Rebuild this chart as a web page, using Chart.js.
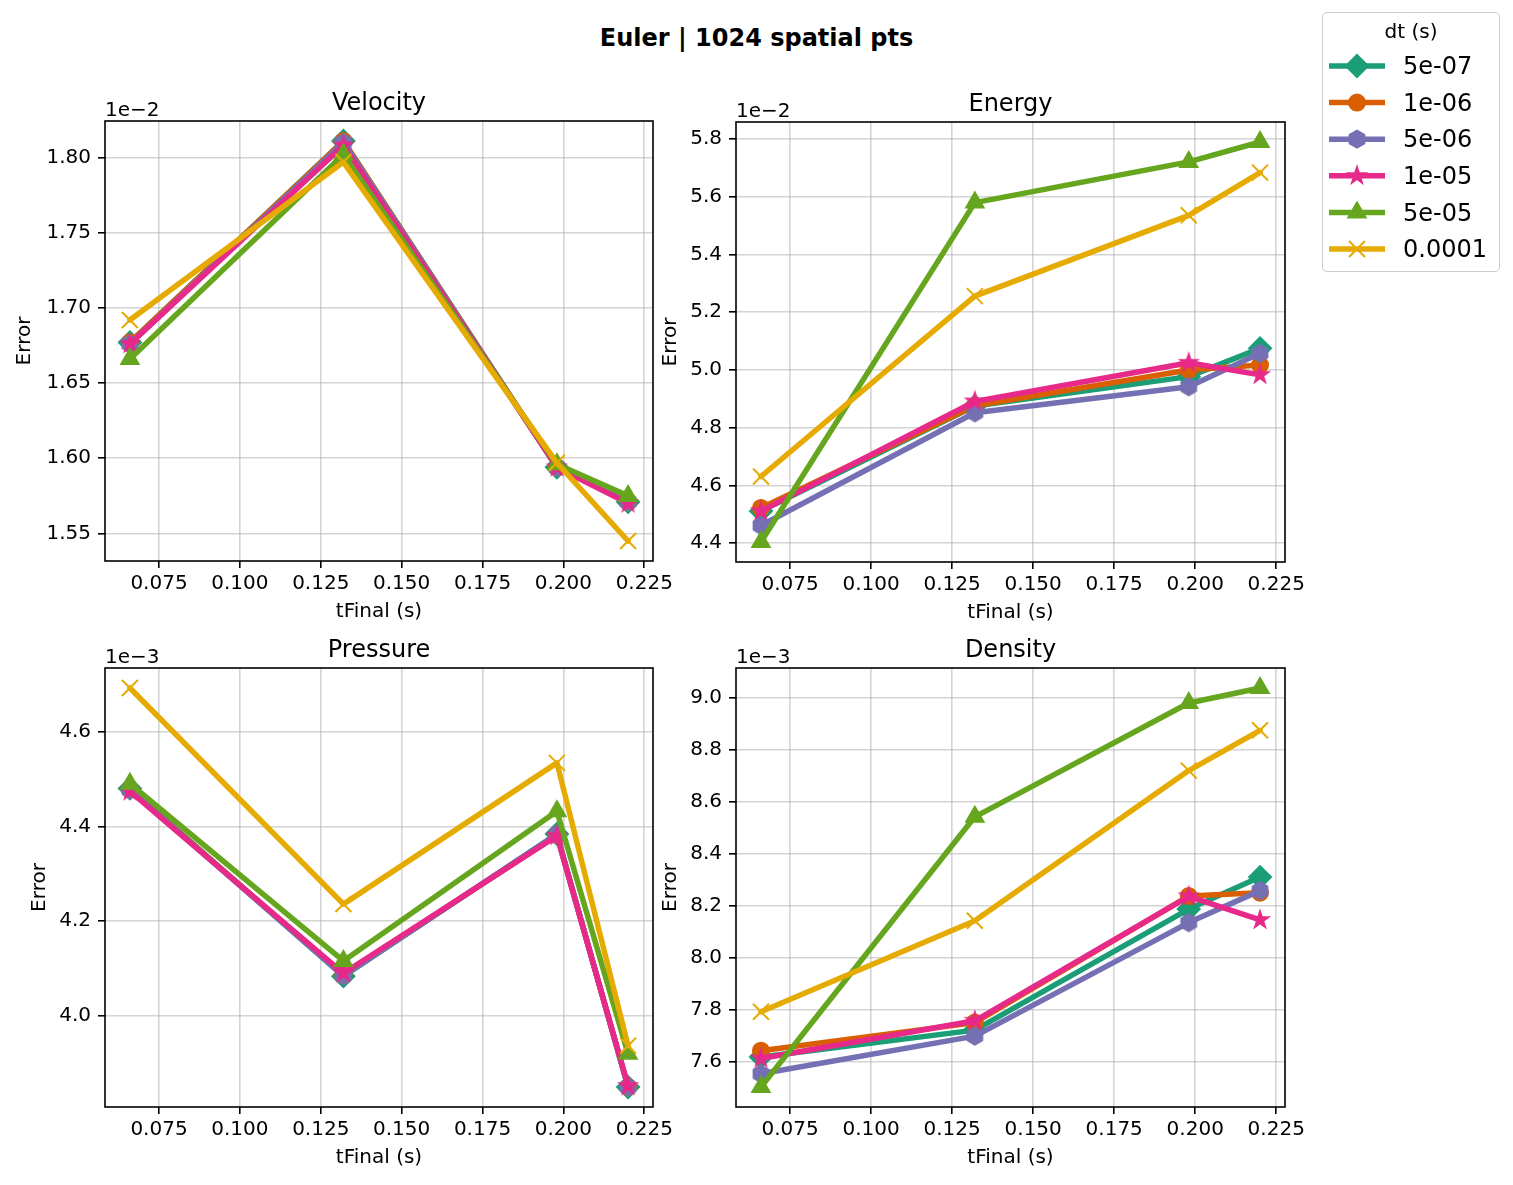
<!DOCTYPE html>
<html>
<head>
<meta charset="utf-8">
<script src="https://cdn.jsdelivr.net/npm/chart.js@4.4.1/dist/chart.umd.min.js"></script>
<style>
html,body{margin:0;padding:0;background:#fff;}
body{width:1513px;height:1185px;position:relative;overflow:hidden;font-family:"DejaVu Sans",sans-serif;}
canvas.panel{position:absolute;}
#suptitle{position:absolute;left:0;top:26px;width:1513px;text-align:center;font:bold 24px/24px "DejaVu Sans";color:#000;white-space:nowrap;}
#legendBox{position:absolute;left:1322px;top:12px;width:178px;height:260px;box-sizing:border-box;border:1.6px solid #cccccc;border-radius:5px;background:rgba(255,255,255,0.8);z-index:5;}
#legendCanvas{position:absolute;left:1322px;top:12px;z-index:6;}
.ltitle{position:absolute;left:1322px;width:178px;top:21px;text-align:center;font:20px/20px "DejaVu Sans";color:#000;z-index:7;}
.llabel{position:absolute;left:1403px;font:24px/24px "DejaVu Sans";color:#000;z-index:7;white-space:nowrap;}
</style>
</head>
<body>
<div id="suptitle">Euler | 1024 spatial pts</div>
<div id="legendBox"></div>
<canvas id="legendCanvas" width="178" height="260"></canvas>
<div class="ltitle">dt (s)</div>

<canvas id="cVel" class="panel"></canvas>
<canvas id="cEne" class="panel"></canvas>
<canvas id="cPre" class="panel"></canvas>
<canvas id="cDen" class="panel"></canvas>

<script>
// ---------------- DATA ----------------
const tFinal = [0.066, 0.132, 0.198, 0.220];
const dtLabels = ['5e-07', '1e-06', '5e-06', '1e-05', '5e-05', '0.0001'];
const seriesColors = ['#1b9e77', '#d95f02', '#7570b3', '#e7298a', '#66a61e', '#e6ab02'];
const seriesMarkers = ['diamond', 'circle', 'hexagon', 'star', 'triangle', 'x'];
const xTicks = [0.075, 0.100, 0.125, 0.150, 0.175, 0.200, 0.225];

// one row per dt series (same order as dtLabels)
const velocityErr = [
  [1.677e-2, 1.811e-2, 1.594e-2, 1.571e-2],
  [1.677e-2, 1.811e-2, 1.594e-2, 1.571e-2],
  [1.676e-2, 1.810e-2, 1.594e-2, 1.571e-2],
  [1.676e-2, 1.808e-2, 1.594e-2, 1.570e-2],
  [1.666e-2, 1.802e-2, 1.596e-2, 1.575e-2],
  [1.692e-2, 1.797e-2, 1.597e-2, 1.545e-2]
];
const energyErr = [
  [4.511e-2, 4.875e-2, 4.977e-2, 5.075e-2],
  [4.522e-2, 4.876e-2, 5.000e-2, 5.017e-2],
  [4.461e-2, 4.852e-2, 4.942e-2, 5.058e-2],
  [4.511e-2, 4.891e-2, 5.025e-2, 4.983e-2],
  [4.404e-2, 5.580e-2, 5.721e-2, 5.790e-2],
  [4.631e-2, 5.256e-2, 5.536e-2, 5.684e-2]
];
const pressureErr = [
  [4.480e-3, 4.084e-3, 4.384e-3, 3.850e-3],
  [4.478e-3, 4.086e-3, 4.382e-3, 3.850e-3],
  [4.477e-3, 4.085e-3, 4.383e-3, 3.850e-3],
  [4.474e-3, 4.090e-3, 4.380e-3, 3.852e-3],
  [4.490e-3, 4.116e-3, 4.432e-3, 3.920e-3],
  [4.692e-3, 4.236e-3, 4.534e-3, 3.937e-3]
];
const densityErr = [
  [7.618e-3, 7.721e-3, 8.187e-3, 8.310e-3],
  [7.642e-3, 7.750e-3, 8.237e-3, 8.250e-3],
  [7.553e-3, 7.698e-3, 8.135e-3, 8.258e-3],
  [7.612e-3, 7.757e-3, 8.236e-3, 8.145e-3],
  [7.502e-3, 8.542e-3, 8.980e-3, 9.038e-3],
  [7.792e-3, 8.142e-3, 8.720e-3, 8.875e-3]
];

const velocityTicks = [1.55e-2, 1.60e-2, 1.65e-2, 1.70e-2, 1.75e-2, 1.80e-2];
const energyTicks = [4.4e-2, 4.6e-2, 4.8e-2, 5.0e-2, 5.2e-2, 5.4e-2, 5.6e-2, 5.8e-2];
const pressureTicks = [4.0e-3, 4.2e-3, 4.4e-3, 4.6e-3];
const densityTicks = [7.6e-3, 7.8e-3, 8.0e-3, 8.2e-3, 8.4e-3, 8.6e-3, 8.8e-3, 9.0e-3];

// ---------------- MARKERS ----------------
function drawMarker(ctx, shape, x, y, color) {
  ctx.save();
  ctx.fillStyle = color; ctx.strokeStyle = color; ctx.lineWidth = 2;
  ctx.lineJoin = 'miter';
  ctx.beginPath();
  if (shape === 'diamond') {
    const r = 11;
    ctx.moveTo(x - r, y); ctx.lineTo(x, y - r); ctx.lineTo(x + r, y); ctx.lineTo(x, y + r); ctx.closePath();
    ctx.fill(); ctx.stroke();
  } else if (shape === 'circle') {
    ctx.arc(x, y, 8, 0, Math.PI * 2); ctx.fill(); ctx.stroke();
  } else if (shape === 'hexagon') {
    const r = 8.5;
    for (let k = 0; k < 6; k++) {
      const a = -Math.PI / 2 + k * Math.PI / 3;
      const px = x + r * Math.cos(a), py = y + r * Math.sin(a);
      if (k === 0) ctx.moveTo(px, py); else ctx.lineTo(px, py);
    }
    ctx.closePath(); ctx.fill(); ctx.stroke();
  } else if (shape === 'star') {
    const R = 8.5, ri = R * 0.382;
    for (let k = 0; k < 10; k++) {
      const a = -Math.PI / 2 + k * Math.PI / 5;
      const rr = (k % 2 === 0) ? R : ri;
      const px = x + rr * Math.cos(a), py = y + rr * Math.sin(a);
      if (k === 0) ctx.moveTo(px, py); else ctx.lineTo(px, py);
    }
    ctx.closePath(); ctx.fill(); ctx.stroke();
  } else if (shape === 'triangle') {
    const r = 10;
    ctx.moveTo(x, y - r);
    ctx.lineTo(x + r * Math.sin(2 * Math.PI / 3), y - r * Math.cos(2 * Math.PI / 3));
    ctx.lineTo(x + r * Math.sin(4 * Math.PI / 3), y - r * Math.cos(4 * Math.PI / 3));
    ctx.closePath(); ctx.fill(); ctx.stroke();
  } else if (shape === 'x') {
    const r = 8;
    ctx.moveTo(x - r, y - r); ctx.lineTo(x + r, y + r);
    ctx.moveTo(x - r, y + r); ctx.lineTo(x + r, y - r);
    ctx.stroke();
  }
  ctx.restore();
}
function markerCanvas(shape, color) {
  const c = document.createElement('canvas');
  c.width = 24; c.height = 24;
  drawMarker(c.getContext('2d'), shape, 12, 12, color);
  return c;
}
function pointOpts(shape, color) {
  switch (shape) {
    case 'diamond': return { pointStyle: 'rectRot', pointRadius: 11, pointBorderWidth: 2 };
    case 'circle': return { pointStyle: 'circle', pointRadius: 8, pointBorderWidth: 2 };
    case 'triangle': return { pointStyle: 'triangle', pointRadius: 10, pointBorderWidth: 2 };
    case 'x': return { pointStyle: 'crossRot', pointRadius: 11.3, pointBorderWidth: 2 };
    default: return { pointStyle: markerCanvas(shape, color), pointRadius: 10, pointBorderWidth: 0 };
  }
}

// ---------------- PANEL TEXT PLUGIN ----------------
const panelText = {
  id: 'panelText',
  afterDraw(chart, args, o) {
    const ctx = chart.ctx, a = chart.chartArea;
    ctx.save();
    ctx.strokeStyle = '#000'; ctx.lineWidth = 1.6;
    ctx.strokeRect(a.left, a.top, a.right - a.left, a.bottom - a.top);
    ctx.fillStyle = '#000';
    ctx.textBaseline = 'alphabetic';
    ctx.font = '24px "DejaVu Sans"'; ctx.textAlign = 'center';
    ctx.fillText(o.title, (a.left + a.right) / 2, a.top - 11);
    ctx.font = '20px "DejaVu Sans"'; ctx.textAlign = 'left';
    ctx.fillText(o.offset, a.left, a.top - 5);
    ctx.textAlign = 'center';
    ctx.fillText(o.xlabel, (a.left + a.right) / 2, a.bottom + 56);
    ctx.translate(a.left - o.ylabOff, (a.top + a.bottom) / 2);
    ctx.rotate(-Math.PI / 2);
    ctx.fillText(o.ylabel, 0, 0);
    ctx.restore();
  }
};

// ---------------- BUILD PANELS ----------------
const panels = [
  { id: 'cVel', title: 'Velocity', data: velocityErr, ticks: velocityTicks, exp: -2, dec: 2, L: 105, T: 121, R: 653, B: 561, ylabOff: 75.5 },
  { id: 'cEne', title: 'Energy',   data: energyErr,   ticks: energyTicks,   exp: -2, dec: 1, L: 736, T: 122, R: 1285, B: 562, ylabOff: 60.5 },
  { id: 'cPre', title: 'Pressure', data: pressureErr, ticks: pressureTicks, exp: -3, dec: 1, L: 105, T: 668, R: 653, B: 1107, ylabOff: 60.5 },
  { id: 'cDen', title: 'Density',  data: densityErr,  ticks: densityTicks,  exp: -3, dec: 1, L: 736, T: 668, R: 1285, B: 1107, ylabOff: 60 }
];

const FONT = 'DejaVu Sans';
const xMinD = Math.min(...tFinal), xMaxD = Math.max(...tFinal);
const xPad = (xMaxD - xMinD) * 0.05;

panels.forEach(p => {
  const Y_W = 105, X_H = 76, PAD_T = 51, PAD_R = 40;
  const cx = p.L - Y_W, cy = p.T - PAD_T;
  const cw = p.R - cx + PAD_R, ch = p.B - cy + X_H;
  const cv = document.getElementById(p.id);
  cv.width = cw; cv.height = ch;
  cv.style.left = cx + 'px'; cv.style.top = cy + 'px';
  cv.style.width = cw + 'px'; cv.style.height = ch + 'px';

  const all = p.data.flat();
  const yMinD = Math.min(...all), yMaxD = Math.max(...all);
  const yPad = (yMaxD - yMinD) * 0.05;
  const scaleF = Math.pow(10, p.exp);

  const datasets = p.data.map((vals, i) => Object.assign({
    label: dtLabels[i],
    data: vals.map((v, j) => ({ x: tFinal[j], y: v })),
    borderColor: seriesColors[i],
    backgroundColor: seriesColors[i],
    pointBackgroundColor: seriesColors[i],
    pointBorderColor: seriesColors[i],
    borderWidth: 5.5,
    borderJoinStyle: 'round',
    borderCapStyle: 'round',
    tension: 0,
    fill: false,
    order: dtLabels.length - 1 - i
  }, pointOpts(seriesMarkers[i], seriesColors[i])));

  new Chart(cv, {
    type: 'line',
    data: { datasets },
    plugins: [panelText],
    options: {
      responsive: false,
      animation: false,
      devicePixelRatio: 1,
      events: [],
      layout: { padding: { left: 0, top: PAD_T, right: PAD_R, bottom: 0 } },
      plugins: {
        legend: { display: false },
        title: { display: false },
        tooltip: { enabled: false },
        panelText: { title: p.title, offset: '1e\u2212' + (-p.exp), xlabel: 'tFinal (s)', ylabel: 'Error', ylabOff: p.ylabOff }
      },
      scales: {
        x: {
          type: 'linear',
          min: xMinD - xPad, max: xMaxD + xPad,
          afterBuildTicks: s => { s.ticks = xTicks.map(v => ({ value: v })); },
          afterFit: s => { s.height = X_H; },
          border: { display: false },
          grid: { color: 'rgba(176,176,176,0.55)', lineWidth: 1.6, tickColor: '#000', tickLength: 7, tickWidth: 1.6, drawTicks: true },
          ticks: { color: '#000', font: { family: FONT, size: 20 }, padding: 4, maxRotation: 0, autoSkip: false,
                   callback: v => Number(v).toFixed(3) }
        },
        y: {
          type: 'linear',
          min: yMinD - yPad, max: yMaxD + yPad,
          afterBuildTicks: s => { s.ticks = p.ticks.map(v => ({ value: v })); },
          afterFit: s => { s.width = Y_W; },
          border: { display: false },
          grid: { color: 'rgba(176,176,176,0.55)', lineWidth: 1.6, tickColor: '#000', tickLength: 7, tickWidth: 1.6, drawTicks: true },
          ticks: { color: '#000', font: { family: FONT, size: 20 }, padding: 7, autoSkip: false,
                   callback: v => (v / scaleF).toFixed(p.dec) }
        }
      }
    }
  });
});

// ---------------- LEGEND ----------------
(function () {
  const lc = document.getElementById('legendCanvas');
  const ctx = lc.getContext('2d');
  const ox = 1322, oy = 12;
  dtLabels.forEach((lab, i) => {
    const cyAbs = 66 + i * 36.6;
    const y = cyAbs - oy;
    ctx.save();
    ctx.strokeStyle = seriesColors[i]; ctx.lineWidth = 5.5; ctx.lineCap = 'butt';
    ctx.beginPath(); ctx.moveTo(1329 - ox, y); ctx.lineTo(1385 - ox, y); ctx.stroke();
    ctx.restore();
    drawMarker(ctx, seriesMarkers[i], 1357 - ox, y, seriesColors[i]);
    const sp = document.createElement('div');
    sp.className = 'llabel';
    sp.style.top = (cyAbs - 11.8) + 'px';
    sp.textContent = lab;
    document.body.appendChild(sp);
  });
})();
</script>
</body>
</html>
